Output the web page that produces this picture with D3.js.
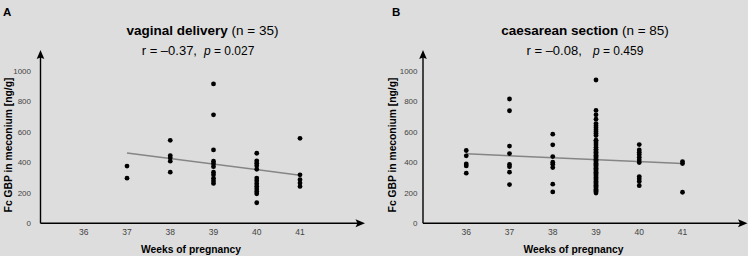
<!DOCTYPE html>
<html><head><meta charset="utf-8">
<script src="https://cdn.jsdelivr.net/npm/d3@7"></script>
<style>body{margin:0;background:#fff}svg{display:block}text{font-family:"Liberation Sans",Arial,sans-serif}</style>
</head><body><svg id="c" width="751" height="259"></svg>
<script>
const weeksTicks = [36, 37, 38, 39, 40, 41];
const yTicks = [0, 200, 400, 600, 800, 1000];

// Panel A: vaginal delivery
const vagWeeks =  [37,37, 38,38,38,38,38, 39,39,39,39,39,39,39,39,39,39,39, 40,40,40,40,40,40,40,40,40,40,40,40,40, 41,41,41,41,41];
const vagValues = [376,296, 545,445,430,408,336, 915,712,482,408,391,372,336,318,295,278,262, 460,410,395,378,355,297,280,260,242,225,208,194,135, 558,318,286,264,242];
const vagTrend = [[37, 462], [41, 316]];

// Panel B: caesarean section
const csWeeks = [36,36,36,36,36, 37,37,37,37,37,37,37,37, 38,38,38,38,38,38,38,38,
  39,39,39,39,39,39,39,39,39,39,39,39,39,39,39,39,39,39,39,39,39,39,39,39,39,39,39,39,39,39,39,39,39,39,39,39,39,39,39,39,39,39,39,39,39,39,39,39,39,39,
  40,40,40,40,40,40,40,40,40,40,40, 41,41,41];
const csValues = [478,443,390,377,329, 816,739,507,458,386,372,336,254, 585,515,438,401,388,366,257,206,
  941,741,712,684,655,641,628,614,601,589,576,541,528,514,500,486,475,466,456,447,439,430,421,412,404,395,386,379,370,361,353,344,336,327,318,310,301,292,284,275,267,258,250,242,233,224,216,208,199,546,
  517,482,467,451,434,416,399,307,291,274,247, 405,392,204];
const csTrend = [[36, 456], [41, 392]];

const svg = d3.select("#c");
svg.append("rect").attr("x",0).attr("y",0).attr("width",748).attr("height",256).attr("fill","#dddddd");

function panel(opt) {
  const g = svg.append("g").attr("transform", `translate(${opt.dx},0)`);
  const x = d3.scaleLinear().domain([35, 41]).range([40.5, 300]);
  const y = d3.scaleLinear().domain([0, 1000]).range([223.3, 71]);
  const x0 = x(35), y0 = y(0);
  // axes
  g.append("line").attr("x1", x0).attr("x2", 358).attr("y1", y0).attr("y2", y0).attr("stroke","#000").attr("stroke-width",1.4);
  g.append("line").attr("x1", x0).attr("x2", x0).attr("y1", y0).attr("y2", 57).attr("stroke","#000").attr("stroke-width",1.4);
  g.append("path").attr("d", `M365,${y0} L355.5,${y0-4} L357.5,${y0} L355.5,${y0+4} Z`).attr("fill","#000");
  g.append("path").attr("d", `M${x0},50 L${x0-3.8},59 L${x0},57.5 L${x0+3.8},59 Z`).attr("fill","#000");
  // tick labels
  g.selectAll("text.xt").data(weeksTicks).join("text").attr("class","xt")
    .attr("x", d => x(d)).attr("y", 235).attr("text-anchor","middle")
    .attr("font-size", 8.5).attr("fill","#444").text(d => d);
  g.selectAll("text.yt").data(yTicks).join("text").attr("class","yt")
    .attr("x", opt.ytx).attr("y", d => y(d) + 3).attr("text-anchor","end")
    .attr("font-size", 8).attr("fill","#444").text(d => d);
  // axis titles
  g.append("text").attr("x", 191).attr("y", 252.5).attr("text-anchor","middle")
    .attr("font-size", 10.3).attr("font-weight","bold").text("Weeks of pregnancy");
  g.append("text").attr("transform", `translate(${opt.ylx},145) rotate(-90)`).attr("text-anchor","middle")
    .attr("font-size", 10.3).attr("font-weight","bold").text("Fc GBP in meconium [ng/g]");
  // trend line
  g.append("line").attr("x1", x(opt.trend[0][0])).attr("y1", y(opt.trend[0][1]))
    .attr("x2", x(opt.trend[1][0])).attr("y2", y(opt.trend[1][1]))
    .attr("stroke","#858585").attr("stroke-width",1.5);
  // points
  g.selectAll("circle").data(opt.weeks.map((w,i)=>[w, opt.values[i]])).join("circle")
    .attr("cx", d => x(d[0])).attr("cy", d => y(d[1])).attr("r", 2.4).attr("fill","#000");
  // panel letter
  g.append("text").attr("x", opt.lx).attr("y", 15.5).attr("font-size", 11.5).attr("font-weight","bold").text(opt.letter);
  // title
  const t = g.append("text").attr("x", 202.5).attr("y", 35).attr("text-anchor","middle").attr("font-size", 13.5);
  t.append("tspan").attr("font-weight","bold").text(opt.title);
  t.append("tspan").text(" " + opt.n);
  // stats
  g.append("text").attr("x", opt.rx).attr("y", 55).attr("font-size", 13).text(opt.r);
  const p = g.append("text").attr("x", opt.px).attr("y", 55).attr("font-size", 12);
  p.append("tspan").attr("font-style","italic").text("p");
  p.append("tspan").text(" = " + opt.p);
}

panel({dx:0, weeks: vagWeeks, values: vagValues, trend: vagTrend, ytx: 31, ylx: 11.5, lx: 3, letter: "A",
  title: "vaginal delivery", n: "(n = 35)", r: "r = \u20130.37,", rx: 141.7, p: "0.027", px: 204});
panel({dx:382.5, weeks: csWeeks, values: csValues, trend: csTrend, ytx: 35, ylx: 13, lx: 9.5, letter: "B",
  title: "caesarean section", n: "(n = 85)", r: "r = \u20130.08,", rx: 144, p: "0.459", px: 210.5});
</script></body></html>
